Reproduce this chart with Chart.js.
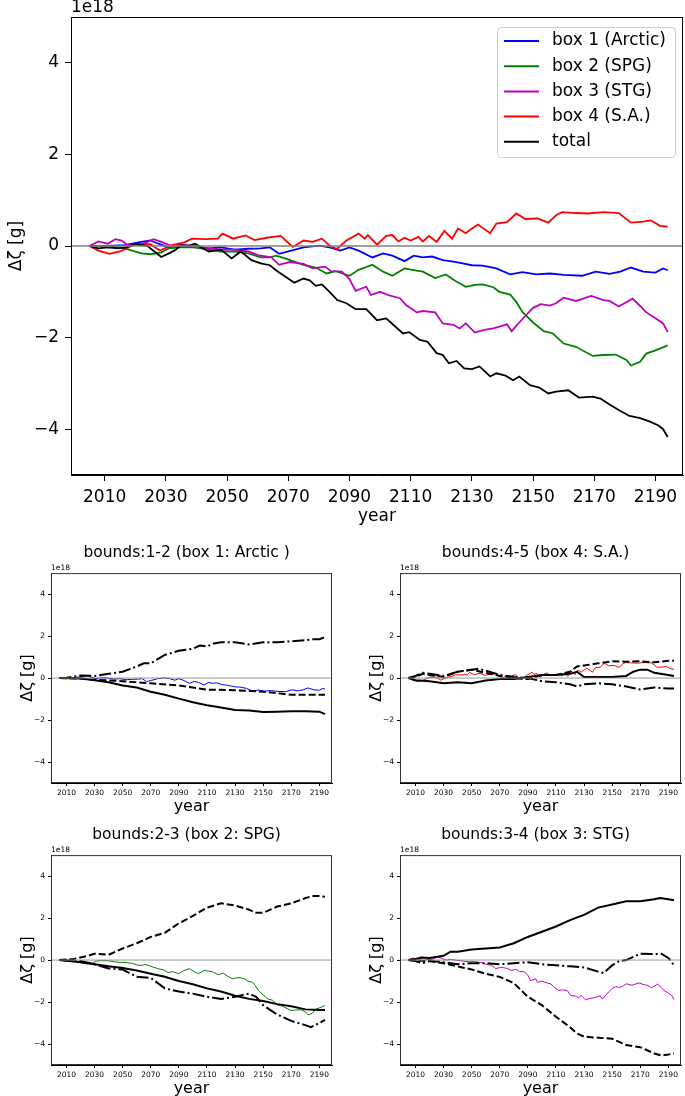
<!DOCTYPE html>
<html>
<head>
<meta charset="utf-8">
<script src="https://cdn.jsdelivr.net/npm/chart.js@4"></script>
<style>
  body { margin: 0; background: #fff; width: 685px; height: 1096px; overflow: hidden; position: relative; }
  canvas { position: absolute; }
</style>
</head>
<body>
<canvas id="mainChart" width="685" height="530" style="left:0;top:0"></canvas>
<canvas id="sub12" width="342" height="280" style="left:0;top:540px"></canvas>
<canvas id="sub45" width="342" height="280" style="left:349px;top:540px"></canvas>
<canvas id="sub23" width="342" height="280" style="left:0;top:822px"></canvas>
<canvas id="sub34" width="342" height="280" style="left:349px;top:822px"></canvas>
<script>
// tick labels (values in units of 1e18 g)
const xTicks = [2010, 2030, 2050, 2070, 2090, 2110, 2130, 2150, 2170, 2190];
const yTicks = [-4, -2, 0, 2, 4];
const offsetLabel = '1e18';
const boxNames = ['box 1 (Arctic)', 'box 2 (SPG)', 'box 3 (STG)', 'box 4 (S.A.)', 'total'];

// main panel series
const yrArctic = [2005, 2011, 2016.5, 2022, 2025, 2027.5, 2031, 2035, 2039, 2044, 2048, 2052.5, 2057, 2061, 2064, 2067, 2070, 2075, 2080, 2083.5, 2087, 2090, 2093, 2097.5, 2101, 2104, 2108, 2111, 2114, 2117, 2120.5, 2124, 2127, 2130, 2133.5, 2138, 2142.5, 2146.5, 2151, 2155.5, 2160, 2166, 2170.5, 2175, 2178.5, 2182, 2186, 2190, 2192.5, 2194];
const valArctic = [0, 0, 0.02, 0.09, 0.12, 0.05, -0.03, 0.02, 0, -0.05, -0.03, -0.08, -0.06, -0.05, -0.03, -0.17, -0.12, -0.03, 0.01, -0.03, -0.1, -0.03, -0.1, -0.25, -0.16, -0.21, -0.33, -0.21, -0.25, -0.23, -0.31, -0.34, -0.38, -0.42, -0.43, -0.49, -0.62, -0.57, -0.62, -0.6, -0.63, -0.65, -0.56, -0.61, -0.56, -0.47, -0.56, -0.58, -0.49, -0.53];

const yrSPG = [2005, 2011, 2016.5, 2022, 2025, 2028.5, 2031, 2035, 2039, 2044, 2048, 2052.5, 2057, 2061, 2064, 2066, 2069, 2075, 2079, 2082.5, 2085.5, 2090, 2093, 2097.5, 2101, 2104, 2108, 2110.5, 2114, 2118, 2121.5, 2124.5, 2128, 2131, 2133.5, 2137, 2139, 2142.5, 2144.5, 2146.5, 2150, 2153.5, 2156.5, 2160, 2164, 2169.5, 2173, 2177, 2180.5, 2182, 2185, 2187, 2190, 2194];
const valSPG = [0, -0.01, -0.05, -0.16, -0.18, -0.14, -0.05, -0.03, -0.03, -0.08, -0.12, -0.12, -0.16, -0.25, -0.25, -0.21, -0.27, -0.41, -0.47, -0.6, -0.55, -0.65, -0.52, -0.41, -0.56, -0.65, -0.49, -0.52, -0.56, -0.7, -0.62, -0.76, -0.89, -0.85, -0.84, -0.9, -1.0, -1.06, -1.22, -1.44, -1.67, -1.86, -1.91, -2.13, -2.2, -2.4, -2.38, -2.37, -2.49, -2.61, -2.53, -2.35, -2.28, -2.17];

const yrSTG = [2005, 2008, 2011, 2013.5, 2015.5, 2017.5, 2022, 2026, 2028.5, 2032, 2035, 2038, 2044, 2048, 2052.5, 2057, 2060, 2064.5, 2067, 2070.5, 2075, 2078, 2082, 2084, 2087.5, 2090, 2092, 2095.5, 2097, 2100, 2103, 2106.5, 2108.5, 2112, 2114, 2118, 2120.5, 2124, 2126, 2128, 2131, 2134, 2137, 2139, 2141.5, 2143, 2145.5, 2148, 2150, 2152.5, 2155.5, 2157.5, 2160, 2164, 2169, 2173, 2175, 2178, 2182.5, 2185, 2187, 2190, 2192.5, 2194];
const valSTG = [0, 0.1, 0.05, 0.15, 0.12, 0.02, 0.03, 0.15, 0.09, 0, 0.03, 0, -0.05, -0.08, -0.08, -0.12, -0.2, -0.25, -0.41, -0.35, -0.39, -0.49, -0.45, -0.55, -0.56, -0.72, -0.98, -0.89, -1.07, -1.0, -1.08, -1.14, -1.29, -1.45, -1.42, -1.45, -1.69, -1.72, -1.8, -1.69, -1.89, -1.83, -1.8, -1.76, -1.71, -1.86, -1.67, -1.49, -1.35, -1.27, -1.3, -1.25, -1.13, -1.2, -1.09, -1.18, -1.2, -1.32, -1.15, -1.31, -1.45, -1.58, -1.69, -1.88];

const yrSA = [2005, 2008, 2011.5, 2015, 2020, 2025, 2028, 2032, 2036, 2038.5, 2043, 2047, 2048.5, 2052, 2056, 2059, 2063, 2067.5, 2071.5, 2075, 2078, 2081, 2084, 2086, 2089, 2093, 2095, 2096, 2099, 2102, 2104, 2106, 2108, 2110, 2112.5, 2114, 2116, 2118.5, 2121, 2123.5, 2125.5, 2128, 2130, 2132, 2136, 2138, 2141.5, 2144.5, 2147.5, 2151.5, 2155, 2157.5, 2159.5, 2164, 2168, 2173, 2178, 2182, 2186, 2188.5, 2191.5, 2194];
const valSA = [0, -0.1, -0.17, -0.12, 0.04, 0.04, -0.1, 0.02, 0.08, 0.16, 0.15, 0.16, 0.27, 0.16, 0.23, 0.13, 0.18, 0.22, -0.02, 0.12, 0.09, 0.16, -0.02, -0.06, 0.12, 0.27, 0.16, 0.24, 0.03, 0.22, 0.24, 0.1, 0.18, 0.12, 0.2, 0.1, 0.22, 0.09, 0.33, 0.16, 0.38, 0.28, 0.38, 0.47, 0.28, 0.49, 0.52, 0.71, 0.59, 0.6, 0.51, 0.67, 0.74, 0.72, 0.71, 0.74, 0.72, 0.51, 0.53, 0.56, 0.44, 0.42];

const yrTotal = [2005, 2008, 2011, 2014.5, 2017, 2020, 2024, 2028.5, 2031, 2033, 2035, 2037, 2039.5, 2044, 2048, 2051.5, 2054.5, 2058, 2061, 2064, 2066, 2068, 2072, 2075, 2077, 2079, 2081, 2083.5, 2086, 2089, 2092, 2095.5, 2099, 2102, 2104.5, 2107.5, 2109.5, 2113, 2115.5, 2118.5, 2120.5, 2122.5, 2125, 2127.5, 2130, 2132.5, 2136, 2138, 2141, 2143.5, 2145.5, 2149, 2152, 2155, 2157.5, 2161.5, 2165, 2169.5, 2172, 2175, 2178, 2181.5, 2185, 2188, 2191, 2192.5, 2194];
const valTotal = [0, -0.05, -0.03, -0.05, -0.03, 0.05, 0, -0.24, -0.16, -0.09, 0.02, 0, 0.05, -0.12, -0.08, -0.27, -0.12, -0.31, -0.38, -0.42, -0.53, -0.62, -0.8, -0.71, -0.75, -0.87, -0.84, -1.0, -1.18, -1.25, -1.38, -1.38, -1.62, -1.58, -1.73, -1.91, -1.88, -2.05, -2.09, -2.34, -2.38, -2.56, -2.51, -2.67, -2.69, -2.63, -2.85, -2.78, -2.83, -2.93, -2.85, -3.04, -3.09, -3.22, -3.18, -3.15, -3.31, -3.29, -3.33, -3.46, -3.58, -3.71, -3.76, -3.83, -3.92, -4.0, -4.17];

// bounds 1-2
const yrB12Solid = [2005, 2020, 2030, 2040, 2050, 2060, 2070, 2080, 2090, 2100, 2110, 2120, 2130, 2140, 2150, 2160, 2170, 2180, 2190, 2194];
const valB12Solid = [0, -0.02, -0.1, -0.2, -0.35, -0.45, -0.65, -0.8, -0.98, -1.15, -1.3, -1.4, -1.52, -1.55, -1.62, -1.6, -1.58, -1.58, -1.6, -1.72];
const yrB12Dash = [2005, 2020, 2030, 2050, 2070, 2090, 2100, 2110, 2130, 2150, 2160, 2170, 2194];
const valB12Dash = [0, -0.02, -0.08, -0.15, -0.25, -0.35, -0.45, -0.55, -0.58, -0.65, -0.72, -0.8, -0.8];
const yrB12DashDot = [2005, 2010, 2020, 2030, 2040, 2050, 2060, 2065, 2070, 2075, 2080, 2090, 2095, 2100, 2105, 2110, 2115, 2120, 2130, 2140, 2150, 2160, 2170, 2180, 2185, 2190, 2194];
const valB12DashDot = [0, 0.02, 0.12, 0.1, 0.2, 0.3, 0.55, 0.7, 0.7, 0.9, 1.1, 1.3, 1.35, 1.4, 1.55, 1.5, 1.65, 1.7, 1.7, 1.6, 1.7, 1.7, 1.75, 1.8, 1.85, 1.85, 1.95];

// bounds 4-5
const yrB45Solid = [2005, 2010, 2020, 2030, 2040, 2050, 2060, 2070, 2080, 2090, 2100, 2110, 2120, 2125, 2130, 2140, 2150, 2160, 2165, 2170, 2175, 2180, 2190, 2194];
const valB45Solid = [0, -0.1, -0.15, -0.25, -0.2, -0.25, -0.12, -0.05, -0.05, 0.05, 0.15, 0.15, 0.2, 0.3, 0.05, 0.05, 0.05, 0.1, 0.3, 0.4, 0.4, 0.25, 0.15, 0.1];
const yrB45Dash = [2005, 2010, 2015, 2020, 2030, 2040, 2050, 2060, 2070, 2080, 2090, 2100, 2110, 2120, 2125, 2130, 2140, 2150, 2160, 2170, 2180, 2190, 2194];
const valB45Dash = [0, 0.05, 0.2, 0.15, 0.05, 0.3, 0.4, 0.25, 0.1, 0, -0.05, 0.15, 0.15, 0.3, 0.55, 0.6, 0.7, 0.8, 0.78, 0.8, 0.75, 0.82, 0.82];
const yrB45DashDot = [2005, 2010, 2015, 2020, 2030, 2040, 2050, 2055, 2060, 2070, 2080, 2090, 2100, 2110, 2120, 2125, 2130, 2140, 2150, 2160, 2170, 2180, 2190, 2194];
const valB45DashDot = [0, 0.1, 0.25, 0.2, 0.1, 0.3, 0.4, 0.45, 0.35, 0.15, 0.05, 0, -0.15, -0.2, -0.3, -0.4, -0.3, -0.25, -0.3, -0.4, -0.55, -0.45, -0.5, -0.5];

// bounds 2-3
const yrB23Solid = [2005, 2020, 2030, 2040, 2050, 2060, 2070, 2080, 2090, 2100, 2110, 2120, 2130, 2140, 2150, 2160, 2170, 2180, 2190, 2194];
const valB23Solid = [0, -0.1, -0.2, -0.3, -0.38, -0.5, -0.65, -0.8, -1.0, -1.15, -1.35, -1.5, -1.7, -1.85, -1.95, -2.1, -2.2, -2.35, -2.38, -2.38];
const yrB23Dash = [2005, 2015, 2025, 2030, 2040, 2050, 2060, 2070, 2080, 2090, 2100, 2110, 2120, 2130, 2140, 2145, 2150, 2160, 2170, 2180, 2185, 2190, 2194];
const valB23Dash = [0, 0.05, 0.2, 0.3, 0.25, 0.55, 0.8, 1.1, 1.3, 1.75, 2.1, 2.5, 2.7, 2.6, 2.4, 2.25, 2.25, 2.55, 2.7, 2.95, 3.05, 3.05, 3.02];
const yrB23DashDot = [2005, 2020, 2030, 2040, 2050, 2060, 2070, 2080, 2090, 2100, 2110, 2120, 2130, 2140, 2145, 2150, 2160, 2170, 2180, 2184, 2190, 2194];
const valB23DashDot = [0, -0.05, -0.2, -0.4, -0.45, -0.8, -0.85, -1.35, -1.5, -1.6, -1.75, -1.85, -1.75, -1.6, -1.75, -2.15, -2.6, -2.9, -3.1, -3.2, -3.0, -2.85];

// bounds 3-4
const yrB34Solid = [2005, 2010, 2015, 2020, 2030, 2035, 2040, 2050, 2060, 2070, 2080, 2090, 2100, 2110, 2120, 2130, 2140, 2150, 2160, 2170, 2180, 2184, 2190, 2194];
const valB34Solid = [0, 0.05, 0.12, 0.1, 0.2, 0.4, 0.4, 0.5, 0.55, 0.6, 0.8, 1.1, 1.35, 1.6, 1.9, 2.15, 2.5, 2.65, 2.8, 2.8, 2.9, 2.95, 2.9, 2.85];
const yrB34Dash = [2005, 2010, 2020, 2030, 2040, 2050, 2060, 2070, 2080, 2090, 2100, 2110, 2120, 2125, 2130, 2140, 2150, 2160, 2170, 2180, 2185, 2190, 2194];
const valB34Dash = [0, -0.02, -0.05, -0.15, -0.3, -0.45, -0.65, -0.8, -1.1, -1.75, -2.15, -2.7, -3.2, -3.5, -3.65, -3.7, -3.75, -4.05, -4.15, -4.45, -4.55, -4.5, -4.45];
const yrB34DashDot = [2005, 2010, 2015, 2020, 2030, 2040, 2050, 2060, 2070, 2080, 2090, 2100, 2110, 2120, 2130, 2140, 2144, 2150, 2155, 2160, 2170, 2180, 2185, 2190, 2194];
const valB34DashDot = [0, -0.05, -0.15, -0.05, -0.1, -0.2, -0.15, -0.15, -0.2, -0.15, -0.1, -0.2, -0.25, -0.3, -0.35, -0.55, -0.62, -0.25, -0.05, 0, 0.3, 0.28, 0.3, 0.1, -0.25];

Chart.defaults.font.family = "'DejaVu Sans', sans-serif";
Chart.defaults.color = '#000';
Chart.defaults.animation = false;

function pts(xs, ys) {
    return xs.map((x, i) => ({ x: x, y: ys[i] }));
}

function minusFmt(v) {
    return v < 0 ? '\u2212' + (-v) : String(v);
}

// zero line, full frame and the "1e18" offset text
const framePlugin = {
    id: 'frame',
    afterDatasetsDraw(chart, args, opts) {
        const ctx = chart.ctx;
        const a = chart.chartArea;
        const y0 = chart.scales.y.getPixelForValue(0);
        ctx.save();
        ctx.strokeStyle = opts.zeroColor;
        ctx.lineWidth = opts.zeroWidth;
        ctx.beginPath();
        ctx.moveTo(a.left, y0);
        ctx.lineTo(a.right, y0);
        ctx.stroke();
        ctx.strokeStyle = opts.frameColor;
        ctx.lineWidth = 1;
        ctx.strokeRect(a.left + 0.5, a.top + 0.5, a.right - a.left - 1, a.bottom - a.top - 1);
        ctx.fillStyle = '#000';
        ctx.font = opts.offsetSize + "px 'DejaVu Sans'";
        ctx.textBaseline = 'middle';
        ctx.textAlign = 'left';
        ctx.fillText(offsetLabel, a.left, a.top - opts.offsetGap);
        ctx.restore();
    }
};

// matplotlib style legend box in the upper right
const legendBox = {
    id: 'legendBox',
    afterDraw(chart) {
        const ctx = chart.ctx;
        const a = chart.chartArea;
        const sets = chart.data.datasets;
        const w = 178, h = 130;
        const x0 = a.right - 8 - w, y0 = a.top + 10;
        ctx.save();
        ctx.beginPath();
        ctx.roundRect(x0 + 0.5, y0 + 0.5, w, h, 4);
        ctx.fillStyle = 'rgba(255,255,255,0.8)';
        ctx.fill();
        ctx.strokeStyle = '#cccccc';
        ctx.lineWidth = 1;
        ctx.stroke();
        ctx.font = "17px 'DejaVu Sans'";
        ctx.textBaseline = 'middle';
        sets.forEach(function(ds, i) {
            const yy = y0 + 14 + i * 25.2;
            ctx.strokeStyle = ds.borderColor;
            ctx.lineWidth = 2;
            ctx.beginPath();
            ctx.moveTo(x0 + 7, yy);
            ctx.lineTo(x0 + 42, yy);
            ctx.stroke();
            ctx.fillStyle = '#000';
            ctx.fillText(ds.label, x0 + 55, yy);
        });
        ctx.restore();
    }
};

function scalesFor(s) {
    return {
        x: {
            type: 'linear', min: 1999, max: 2199,
            afterBuildTicks: function(sc) { sc.ticks = xTicks.map(v => ({ value: v })); },
            afterFit: function(sc) { sc.height = s.xh; },
            ticks: { font: { size: s.tick }, padding: s.tickPad, maxRotation: 0, autoSkip: false, callback: v => String(v) },
            grid: { drawOnChartArea: false, tickLength: s.tickLen, color: '#000', tickColor: '#000' },
            border: { color: '#000', width: 1 },
            title: { display: true, text: 'year', font: { size: s.label }, padding: { top: 0, bottom: s.xTitlePad } }
        },
        y: {
            type: 'linear', min: -5, max: 5,
            afterBuildTicks: function(sc) { sc.ticks = yTicks.map(v => ({ value: v })); },
            afterFit: function(sc) { sc.width = s.yw; },
            ticks: { font: { size: s.tick }, padding: s.tickPad, callback: minusFmt },
            grid: { drawOnChartArea: false, tickLength: s.tickLen, color: '#000', tickColor: '#000' },
            border: { color: '#000', width: 1 },
            title: { display: true, text: '\u0394\u03b6 [g]', font: { size: s.label }, padding: { top: s.yTitlePad, bottom: 0 } }
        }
    };
}

// main panel
const mainColors = ['#0000ff', '#008000', '#bf00bf', '#ff0000', '#000000'];
const mainSeries = [pts(yrArctic, valArctic), pts(yrSPG, valSPG), pts(yrSTG, valSTG), pts(yrSA, valSA), pts(yrTotal, valTotal)];

new Chart(document.getElementById('mainChart').getContext('2d'), {
    type: 'line',
    data: {
        datasets: mainSeries.map(function(d, i) {
            return { label: boxNames[i], data: d, borderColor: mainColors[i], borderWidth: 1.8, pointRadius: 0, tension: 0, order: 4 - i };
        })
    },
    options: {
        responsive: false,
        layout: { padding: { left: 0, top: 17, right: 2, bottom: 0 } },
        scales: scalesFor({ xh: 55, yw: 71, tick: 17, tickPad: 6, tickLen: 6, label: 17, xTitlePad: 3, yTitlePad: 6 }),
        plugins: {
            legend: { display: false },
            tooltip: { enabled: false },
            frame: { zeroColor: '#808080', zeroWidth: 1.6, frameColor: '#000', offsetSize: 17, offsetGap: 9 }
        }
    },
    plugins: [framePlugin, legendBox]
});

// small panels
function subChart(id, title, colored, color, solid, dashed, dashDot) {
    new Chart(document.getElementById(id).getContext('2d'), {
        type: 'line',
        data: {
            datasets: [
                { data: solid, borderColor: '#000', borderWidth: 2, pointRadius: 0, tension: 0 },
                { data: dashed, borderColor: '#000', borderWidth: 2, borderDash: [7, 3], pointRadius: 0, tension: 0 },
                { data: dashDot, borderColor: '#000', borderWidth: 2, borderDash: [12, 3, 2, 3], pointRadius: 0, tension: 0 },
                { data: colored, borderColor: color, borderWidth: 1, pointRadius: 0, tension: 0 }
            ]
        },
        options: {
            responsive: false,
            layout: { padding: { left: 0, top: 0, right: 10, bottom: 0 } },
            scales: scalesFor({ xh: 37, yw: 51, tick: 7.5, tickPad: 3, tickLen: 3, label: 16, xTitlePad: 3.5, yTitlePad: 18 }),
            plugins: {
                legend: { display: false },
                tooltip: { enabled: false },
                title: { display: true, text: title, fullSize: false, font: { size: 15.5, weight: 'normal' }, padding: { top: 4, bottom: 10.5 } },
                frame: { zeroColor: '#8c8c8c', zeroWidth: 0.9, frameColor: '#333', offsetSize: 7.5, offsetGap: 5 }
            }
        },
        plugins: [framePlugin]
    });
}

subChart('sub12', 'bounds:1-2 (box 1: Arctic )  ', mainSeries[0], mainColors[0],
    pts(yrB12Solid, valB12Solid), pts(yrB12Dash, valB12Dash), pts(yrB12DashDot, valB12DashDot));
subChart('sub45', 'bounds:4-5 (box 4: S.A.)  ', mainSeries[3], mainColors[3],
    pts(yrB45Solid, valB45Solid), pts(yrB45Dash, valB45Dash), pts(yrB45DashDot, valB45DashDot));
subChart('sub23', 'bounds:2-3 (box 2: SPG)  ', mainSeries[1], mainColors[1],
    pts(yrB23Solid, valB23Solid), pts(yrB23Dash, valB23Dash), pts(yrB23DashDot, valB23DashDot));
subChart('sub34', 'bounds:3-4 (box 3: STG)  ', mainSeries[2], mainColors[2],
    pts(yrB34Solid, valB34Solid), pts(yrB34Dash, valB34Dash), pts(yrB34DashDot, valB34DashDot));
</script>
</body>
</html>
